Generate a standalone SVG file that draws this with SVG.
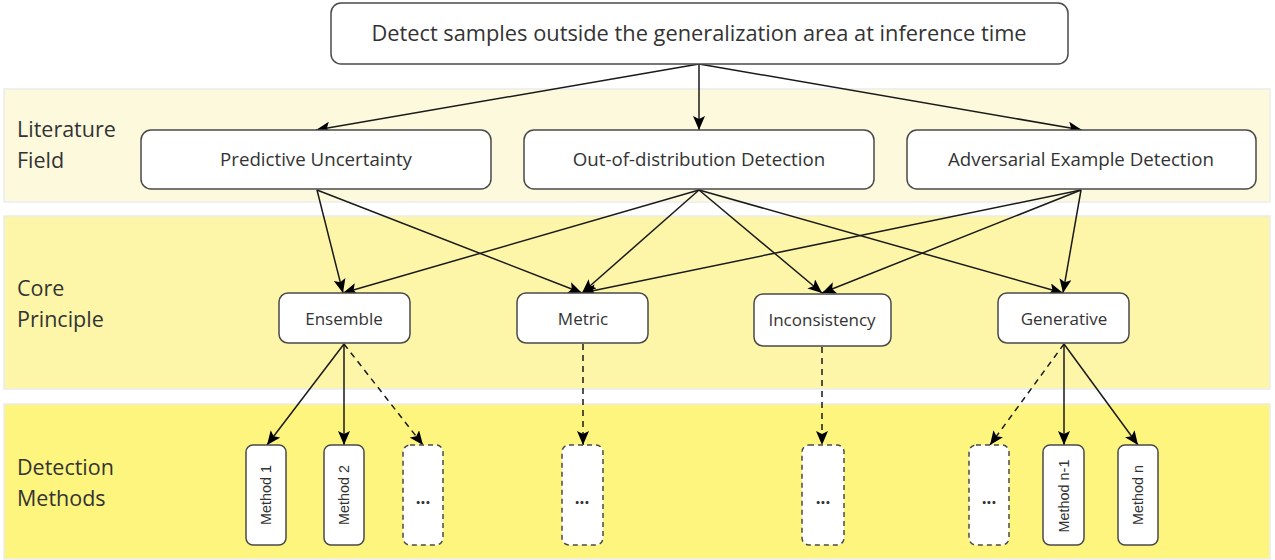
<svg xmlns="http://www.w3.org/2000/svg" width="1275" height="560" viewBox="0 0 1275 560">
<style>
.band{stroke:#ececec;stroke-width:1.5}
.node{fill:#fff;stroke:#4a4a4a;stroke-width:1.5}
.dash{fill:#fff;stroke:#4a4a4a;stroke-width:1.5;stroke-dasharray:5 4}
.t{font-family:"Open Sans","Noto Sans",sans-serif;fill:#333;text-anchor:middle;dominant-baseline:central}
.m{font-family:"Liberation Sans",Arial,sans-serif;fill:#333;text-anchor:middle;dominant-baseline:central;font-size:14.4px}
.lbl{font-family:"Open Sans","Noto Sans",sans-serif;fill:#333;font-size:21.5px}
.e{stroke:#1a1a1a;stroke-width:1.5;fill:none;marker-end:url(#ah)}
.ed{stroke:#1a1a1a;stroke-width:1.5;fill:none;stroke-dasharray:6 5;marker-end:url(#ah)}
</style>
<defs>
<marker id="ah" markerUnits="userSpaceOnUse" markerWidth="14" markerHeight="12" viewBox="0 0 14 12" refX="14" refY="6" orient="auto">
<path d="M0,0 L14,6 L0,12 L3,6 Z" fill="#000"/>
</marker>
</defs>
<g id="bands">
<rect class="band" x="4" y="89" width="1266" height="113" fill="#fdf9dd"/>
<rect class="band" x="4" y="216" width="1266" height="173" fill="#fdf6a8"/>
<rect class="band" x="4" y="404" width="1266" height="155" fill="#fef57f"/>
<text class="lbl" x="17" y="137">Literature</text>
<text class="lbl" x="17" y="168">Field</text>
<text class="lbl" x="17" y="296">Core</text>
<text class="lbl" x="17" y="327">Principle</text>
<text class="lbl" x="17" y="475">Detection</text>
<text class="lbl" x="17" y="506">Methods</text>
</g>
<g id="connectors">
<line class="e" x1="699" y1="64" x2="316" y2="130"/>
<line class="e" x1="699" y1="64" x2="699" y2="130"/>
<line class="e" x1="699" y1="64" x2="1082" y2="130"/>
<line class="e" x1="317" y1="190" x2="343" y2="293"/>
<line class="e" x1="317" y1="190" x2="582" y2="293"/>
<line class="e" x1="699" y1="190" x2="343" y2="293"/>
<line class="e" x1="699" y1="190" x2="582" y2="293"/>
<line class="e" x1="699" y1="190" x2="822" y2="293"/>
<line class="e" x1="699" y1="190" x2="1063" y2="293"/>
<line class="e" x1="1081" y1="190" x2="582" y2="293"/>
<line class="e" x1="1081" y1="190" x2="822" y2="293"/>
<line class="e" x1="1081" y1="190" x2="1063" y2="293"/>
<line class="e" x1="344" y1="344" x2="267" y2="445"/>
<line class="e" x1="344" y1="344" x2="344" y2="445"/>
<line class="ed" x1="344" y1="344" x2="423" y2="445"/>
<line class="ed" x1="583" y1="344" x2="583" y2="445"/>
<line class="ed" x1="822" y1="347" x2="822" y2="445"/>
<line class="ed" x1="1064" y1="344" x2="990" y2="445"/>
<line class="e" x1="1064" y1="344" x2="1064" y2="445"/>
<line class="e" x1="1064" y1="344" x2="1138" y2="445"/>
</g>
<g id="goal">
<rect class="node" x="331" y="3" width="737" height="61" rx="10"/>
<text class="t" x="699" y="32" font-size="21.8">Detect samples outside the generalization area at inference time</text>
</g>
<g id="lit-predictive">
<rect class="node" x="141" y="130" width="350" height="59" rx="10"/>
<text class="t" x="316" y="158" font-size="18.7">Predictive Uncertainty</text>
</g>
<g id="lit-ood">
<rect class="node" x="524" y="130" width="350" height="59" rx="10"/>
<text class="t" x="699" y="158" font-size="18.7">Out-of-distribution Detection</text>
</g>
<g id="lit-adversarial">
<rect class="node" x="907" y="130" width="349" height="59" rx="10"/>
<text class="t" x="1081" y="158" font-size="18.7">Adversarial Example Detection</text>
</g>
<g id="cp-ensemble">
<rect class="node" x="279" y="293" width="131" height="50" rx="9"/>
<text class="t" x="344" y="318" font-size="17">Ensemble</text>
</g>
<g id="cp-metric">
<rect class="node" x="517" y="293" width="131" height="50" rx="9"/>
<text class="t" x="583" y="318" font-size="17">Metric</text>
</g>
<g id="cp-inconsistency">
<rect class="node" x="754" y="294" width="137" height="52" rx="9"/>
<text class="t" x="822" y="319" font-size="17">Inconsistency</text>
</g>
<g id="cp-generative">
<rect class="node" x="998" y="293" width="131" height="50" rx="9"/>
<text class="t" x="1064" y="318" font-size="17">Generative</text>
</g>
<g id="m-1">
<rect class="node" x="246" y="445" width="40" height="100" rx="7"/>
<text class="m" transform="translate(266,495) rotate(-90)">Method 1</text>
</g>
<g id="m-2">
<rect class="node" x="324" y="445" width="40" height="100" rx="7"/>
<text class="m" transform="translate(344,495) rotate(-90)">Method 2</text>
</g>
<g id="m-ens-more">
<rect class="dash" x="403" y="445" width="40" height="100" rx="7"/>
<text class="t" x="423" y="497" font-size="17" font-weight="bold">...</text>
</g>
<g id="m-metric-more">
<rect class="dash" x="562" y="445" width="41" height="100" rx="7"/>
<text class="t" x="582" y="497" font-size="17" font-weight="bold">...</text>
</g>
<g id="m-inc-more">
<rect class="dash" x="802" y="445" width="42" height="100" rx="7"/>
<text class="t" x="823" y="497" font-size="17" font-weight="bold">...</text>
</g>
<g id="m-gen-more">
<rect class="dash" x="969" y="445" width="40" height="100" rx="7"/>
<text class="t" x="989" y="497" font-size="17" font-weight="bold">...</text>
</g>
<g id="m-n-1">
<rect class="node" x="1043" y="445" width="41" height="100" rx="7"/>
<text class="m" transform="translate(1064,496) rotate(-90)">Method n-1</text>
</g>
<g id="m-n">
<rect class="node" x="1118" y="445" width="40" height="100" rx="7"/>
<text class="m" transform="translate(1138,495) rotate(-90)">Method n</text>
</g>
</svg>
